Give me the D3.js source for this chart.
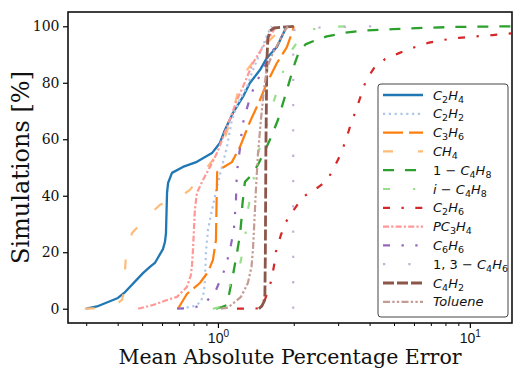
<!DOCTYPE html>
<html>
<head>
<meta charset="utf-8">
<script src="https://cdn.jsdelivr.net/npm/d3@7"></script>
<style>
body{margin:0;background:#fff;}
</style>
</head>
<body>
<div id="chart"></div>
<script>
// legend labels, "_" marks a subscript digit
const labels = ["C_2H_4","C_2H_2","C_3H_6","CH_4","1 \u2212 C_4H_8","i \u2212 C_4H_8","C_2H_6","PC_3H_4","C_6H_6","1, 3 \u2212 C_4H_6","C_4H_2","Toluene"];

// cumulative share of simulations (%) against error
const c2h4Err = [0.30,0.331,0.401,0.428,0.504,0.537,0.562,0.605,0.616,0.622,0.628,0.634,0.657,0.726,0.825,0.947,1.018,1.066,1.147,1.256,1.339,1.468,1.564,1.714,1.845,1.878];
const c2h4Pct = [0,0.8,3.8,5.9,12.6,14.8,16.2,21.1,23.6,26.8,41.0,44.5,48.1,50.2,52.0,55.1,58.7,63.3,69.3,75.0,79.9,84.5,88.8,92.7,98.7,100];
const c2h2Err = [0.713,0.810,0.856,0.880,0.888,0.896,0.913,0.938,0.991,1.037,1.086,1.136,1.201,1.303,1.377,1.468,1.579,1.638];
const c2h2Pct = [0,1.0,2.4,5.9,10.2,19.8,27.9,33.2,43.1,50.2,57.3,66.8,72.8,78.5,84.5,90.5,97.6,100];
const c3h6Err = [0.694,0.753,0.848,0.913,0.955,0.982,0.988,0.993,1.037,1.136,1.223,1.339,1.468,1.564,1.714,1.878,1.984,2.0];
const c3h6Pct = [0,5.2,9.1,13.0,17.2,24.3,38.5,48.4,49.8,51.9,57.3,66.1,73.9,79.9,87.0,92.6,98.7,100];
const ch4Err = [0.296,0.340,0.390,0.416,0.424,0.428,0.432,0.456,0.523,0.589,0.707,0.774,0.848,0.955,1.066,1.136,1.223,1.303,1.428,1.564,1.714,1.861];
const ch4Pct = [0,0.2,1.3,3.1,5.9,13.7,20.8,26.8,32.5,36.8,39.6,42.1,46.7,52.7,60.5,68.6,79.2,84.5,89.1,94.1,97.6,100];
const c4h8Err = [0.982,1.037,1.086,1.116,1.147,1.190,1.223,1.245,1.250,1.280,1.339,1.441,1.495,1.608,1.730,1.828,1.930,2.021,2.096,2.235,2.449,2.706,3.132,3.663,4.951,6.747,9.124,15.0];
const c4h8Pct = [0,0.6,1.3,6.6,11.9,19.7,26.1,33.2,36.8,44.9,46.7,50.9,53.8,59.8,66.8,73.9,81.0,87.0,90.9,93.7,95.1,96.4,97.6,98.4,99.0,99.5,99.8,100];
const ic4h8Err = [0.955,1.018,1.116,1.223,1.280,1.315,1.377,1.415,1.522,1.638,1.763,1.895,1.966,2.116,2.318,2.541,3.251];
const ic4h8Pct = [0,0.6,8.4,15.5,24.3,35.0,43.8,52.7,61.5,71.4,80.3,89.5,91.6,95.8,98.6,99.6,100];
const c2h6Err = [1.190,1.495,1.536,1.623,1.669,1.698,1.778,1.861,2.001,2.173,2.424,2.706,2.884,3.075,3.221,3.373,3.533,3.701,3.876,4.164,4.608,5.235,5.99,6.81,7.89,9.05,10.45,12.32,14.64];
const c2h6Pct = [0,0.1,3.1,9.5,15.1,20.1,26.1,30.7,35.0,39.6,42.1,45.3,49.8,54.8,59.8,65.5,70.3,75.7,81.0,85.2,88.4,90.5,92.5,94.1,95.2,95.9,96.4,96.9,97.5];
const pc3h4Err = [0.482,0.552,0.628,0.688,0.753,0.781,0.789,0.796,0.810,0.825,0.872,0.930,0.991,1.086,1.190,1.256,1.377,1.508,1.638,1.698];
const pc3h4Pct = [0,1.3,3.1,4.2,7.7,11.9,15.5,20.8,35.0,41.0,45.6,50.2,55.1,64.3,73.9,78.5,87.0,92.7,97.6,100];
const c6h6Err = [0.688,0.740,0.818,0.904,0.982,1.047,1.086,1.126,1.157,1.168,1.179,1.184,1.190,1.212,1.234,1.245,1.291,1.339,1.402,1.508,1.638,1.763,1.861,1.895];
const c6h6Pct = [0,0.1,0.6,2.7,6.6,12.3,16.5,22.6,27.9,33.2,38.5,43.4,48.4,54.1,59.4,64.3,69.6,74.6,79.2,84.5,90.9,95.1,99.4,100];
const c4h6Err = [1.99,1.99,1.995,2.1,2.6,3.3,4.2];
const c4h6Pct = [0,97,98.6,99.2,99.6,99.8,100];
const c4h2Err = [1.454,1.495,1.522,1.536,1.543,1.550,1.564,1.579,1.608,1.669,2.0];
const c4h2Pct = [0,1.0,2.4,4.9,20.8,56.2,87.9,95.7,98.3,99.4,100];
const tolErr = [1.028,1.096,1.168,1.234,1.315,1.359,1.377,1.390,1.415,1.441,1.481,1.522,1.564,1.652,1.763,1.828,1.895];
const tolPct = [0,0.4,2.4,4.2,9.1,14.8,20.8,27.9,42.1,54.5,66.8,77.4,85.2,90.5,95.1,98.0,100];

const yTicks = [0,20,40,60,80,100];
const xMajor = [1,10];
const xMinor = [0.3,0.4,0.5,0.6,0.7,0.8,0.9,2,3,4,5,6,7,8,9];

const errs = [c2h4Err,c2h2Err,c3h6Err,ch4Err,c4h8Err,ic4h8Err,c2h6Err,pc3h4Err,c6h6Err,c4h6Err,c4h2Err,tolErr];
const pcts = [c2h4Pct,c2h2Pct,c3h6Pct,ch4Pct,c4h8Pct,ic4h8Pct,c2h6Pct,pc3h4Pct,c6h6Pct,c4h6Pct,c4h2Pct,tolPct];

// look of each line (tab20)
const colors = ["#1f77b4","#aec7e8","#ff7f0e","#ffbb78","#2ca02c","#98df8a","#d62728","#ff9896","#9467bd","#c5b0d5","#8c564b","#c49c94"];
const dashes = [null,"2.2,3.6","20,6","10,25","11,11","7,23,2.3,23","7,11.5,2.3,11.5","6,2.2,2.2,2.2","7,11.5,2.3,11.5,2.3,11.5","2.3,23","11,3","7,2.3,2.3,2.3,2.3,2.3"];
const widths = [2.3,2.2,2.2,2.2,2.3,2.2,2.2,2.2,2.2,2.2,2.8,2.2];

var W = 514, H = 368;
var margin = {top:12,right:2,bottom:45,left:68},
w = W - margin.left - margin.right,
h = H - margin.top - margin.bottom;

var svg = d3.select("#chart").append("svg")
  .attr("width",W).attr("height",H)
  .style("font-family","'DejaVu Serif', serif");

var g = svg.append("g").attr("transform",`translate(${margin.left},${margin.top})`);

var xScale = d3.scaleLog().domain([0.254,14.7]).range([0,w]);
var yScale = d3.scaleLinear().domain([-5.06,105.06]).range([h,0]);

g.append("clipPath").attr("id","clip")
  .append("rect").attr("width",w).attr("height",h);

var line = d3.line()
  .x(d => xScale(d[0]))
  .y(d => yScale(d[1]));

var series = labels.map((name,i) => ({name:name, pts:errs[i].map((e,j) => [e,pcts[i][j]]), i:i}));

g.append("g").attr("clip-path","url(#clip)")
  .selectAll("path").data(series).enter()
  .append("path")
  .attr("d",d => line(d.pts))
  .attr("fill","none")
  .attr("stroke",d => colors[d.i])
  .attr("stroke-width",d => widths[d.i])
  .attr("stroke-dasharray",d => dashes[d.i])
  .attr("stroke-linejoin","round");

// axes
var yAxis = g.append("g")
  .call(d3.axisLeft(yScale).tickValues(yTicks).tickSize(5).tickPadding(3.5));
yAxis.select(".domain").remove();
yAxis.selectAll("line").attr("stroke-width",1.2);
yAxis.selectAll("text").attr("font-size",14).attr("font-family","'DejaVu Serif', serif").attr("fill","#111");

var xMinAxis = g.append("g").attr("transform",`translate(0,${h})`)
  .call(d3.axisBottom(xScale).tickValues(xMinor).tickSize(3).tickFormat(""));
xMinAxis.select(".domain").remove();
xMinAxis.selectAll("line").attr("stroke-width",1);

var xAxis = g.append("g").attr("transform",`translate(0,${h})`)
  .call(d3.axisBottom(xScale).tickValues(xMajor).tickSize(5).tickFormat(""));
xAxis.select(".domain").remove();
xAxis.selectAll("line").attr("stroke-width",1.2);
xAxis.selectAll(".tick").append("text")
  .attr("y",19.5).attr("text-anchor","middle")
  .attr("font-size",14).attr("fill","#111")
  .each(function(d){
    var t = d3.select(this);
    t.append("tspan").text("10");
    t.append("tspan").attr("font-size",10).attr("dy",-6).text(Math.round(Math.log10(d)));
  });

// frame
g.append("rect").attr("width",w).attr("height",h)
  .attr("fill","none").attr("stroke","#111").attr("stroke-width",1.6);

// axis titles
svg.append("text").attr("x",margin.left+w/2).attr("y",364)
  .attr("text-anchor","middle").attr("font-size",20.5).attr("fill","#111")
  .text("Mean Absolute Percentage Error");
svg.append("text").attr("transform",`translate(29,${margin.top+h/2})rotate(-90)`)
  .attr("text-anchor","middle").attr("font-size",24).attr("fill","#111")
  .text("Simulations [%]");

// legend
var leg = svg.append("g").attr("transform","translate(378,84)");
leg.append("rect").attr("width",130).attr("height",233).attr("rx",3)
  .attr("fill","#fff").attr("fill-opacity",0.85)
  .attr("stroke","#444").attr("stroke-width",1);

var rows = leg.selectAll("g.row").data(series).enter().append("g")
  .attr("class","row")
  .attr("transform",d => `translate(0,${11 + d.i*18.8})`);

rows.append("line").attr("x1",5).attr("x2",45)
  .attr("stroke",d => colors[d.i])
  .attr("stroke-width",d => widths[d.i])
  .attr("stroke-dasharray",d => dashes[d.i]);

rows.append("text").attr("x",55).attr("y",4.5)
  .attr("font-family","'DejaVu Sans', sans-serif").attr("font-size",13).attr("fill","#111")
  .each(function(d){
    var t = d3.select(this), s = d.name, shift = 0;
    for (var k = 0; k < s.length; k++) {
      var ch = s[k];
      if (ch === "_") {
        k++;
        t.append("tspan").attr("font-size",9.5).attr("dy",3 - shift).text(s[k]);
        shift = 3;
        continue;
      }
      var sp = t.append("tspan").text(ch)
        .attr("font-style",/[A-Za-z]/.test(ch) ? "italic" : "normal");
      if (shift) { sp.attr("dy",-shift); shift = 0; }
    }
  });
</script>
</body>
</html>
